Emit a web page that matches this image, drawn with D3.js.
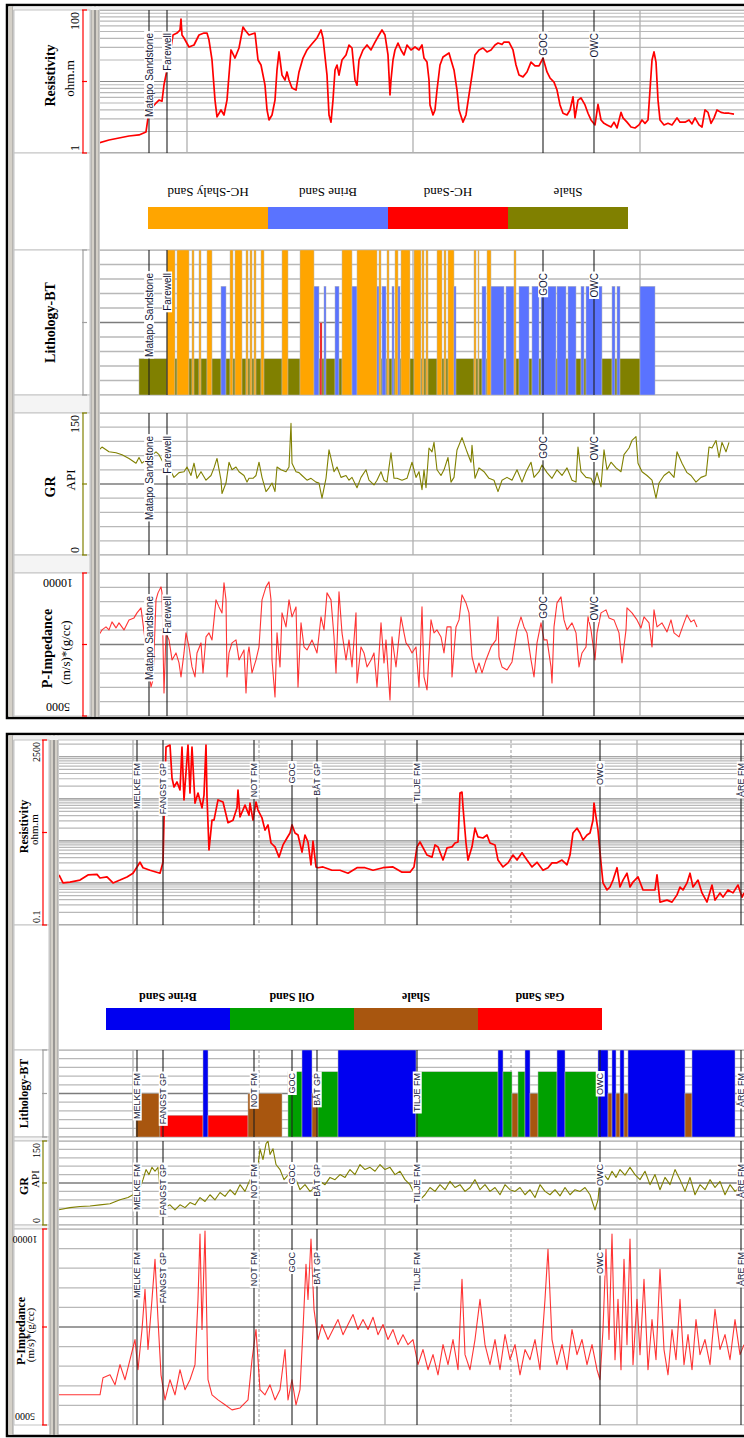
<!DOCTYPE html>
<html lang="en">
<head>
<meta charset="utf-8">
<title>Well log lithology comparison</title>
<script src="https://cdn.jsdelivr.net/npm/d3@7"></script>
<style>
  body { margin: 0; background: #fff; }
  svg { display: block; }
</style>
</head>
<body>
<script>
// ================= DATA : upper well =================
var topDepthRange = [2900, 3560];
var topMarkerNames = ["Matapo Sandstone", "Farewell", "GOC", "OWC"];
var topMarkerDepths = [2950, 2968, 3344, 3395];
var topGridDepths = [2988, 3214, 3441];
var topResDomain = [1, 100];
var topResTicks = ["100", "1"];
var topGRDomain = [0, 150];
var topGRTicks = ["150", "0"];
var topPIDomain = [5000, 10000];
var topPITicks = ["10000", "5000"];
var topLithNames = ["HC-Shaly Sand", "Brine Sand", "HC-Sand", "Shale"];
var topLithCodes = [4, 3, 2, 1];
var topLithColors = ["#ffa500", "#5a73ff", "#ff0000", "#808000"];

// [depth, resistivity ohm.m]
var topRes = [[2900,1.38],[2910,1.52],[2920,1.62],[2930,1.73],[2940,1.79],[2947,1.97],[2949,3.1],[2951,4.0],[2957,5.0],[2960,5.5],[2963,5.3],[2965,9],[2968,14.5],[2971,25],[2974,44.7],[2978,47.6],[2981,52.5],[2982,74.8],[2983,44.7],[2985,40.6],[2990,30.4],[2995,32.4],[3000,44.7],[3005,47.6],[3008,47.6],[3010,38],[3013,20],[3016,5.5],[3018,3.2],[3022,4.0],[3025,3.4],[3028,5.5],[3032,27.6],[3036,21.3],[3040,29.4],[3044,57.8],[3046,52.5],[3050,44.7],[3056,47.6],[3059,20],[3062,17],[3066,8.9],[3068,4.0],[3070,2.9],[3073,3.4],[3076,5.5],[3078,14.5],[3080,25.9],[3083,12.3],[3086,10.5],[3088,13.6],[3090,10.5],[3093,8.1],[3097,7.6],[3100,13.6],[3104,21.3],[3108,27.6],[3112,32.4],[3118,40.6],[3122,52.5],[3124,40.6],[3128,12.3],[3130,3.4],[3132,2.7],[3134,5.5],[3136,14.5],[3138,17],[3140,12.3],[3143,20],[3147,23.5],[3150,32.4],[3153,29.4],[3156,10.5],[3158,8.9],[3160,20],[3164,27.6],[3168,32.4],[3172,27.6],[3176,35.6],[3180,44.7],[3183,52.5],[3186,44.7],[3189,23.5],[3191,6.5],[3192,10.5],[3194,20],[3196,27.6],[3199,34.5],[3202,27.6],[3205,23.5],[3208,32.4],[3212,27.6],[3216,30.4],[3220,27.6],[3223,32.4],[3225,21.3],[3228,18.7],[3230,10.5],[3231,4.7],[3234,3.4],[3236,4.0],[3238,7.6],[3241,17],[3244,22],[3247,23.5],[3250,25.1],[3252,20],[3255,14.5],[3258,7.6],[3260,4.0],[3264,2.7],[3267,3.4],[3270,6.5],[3273,12.3],[3276,23.5],[3280,27.6],[3284,29.4],[3288,25.9],[3292,27.6],[3296,32.4],[3299,34.5],[3303,33],[3305,35.6],[3310,35.6],[3314,27.6],[3317,17],[3320,12.3],[3324,11.6],[3328,13.6],[3332,18.7],[3336,16.5],[3340,16.5],[3344,21.3],[3348,13.6],[3351,11.2],[3355,9.8],[3358,7.6],[3361,4.7],[3364,3.6],[3368,3.4],[3371,4.0],[3374,6.1],[3376,3.1],[3379,5.5],[3382,5.9],[3386,4.7],[3389,3.6],[3392,2.9],[3396,2.47],[3399,4.8],[3402,2.9],[3405,2.6],[3408,2.47],[3412,2.31],[3415,2.7],[3418,2.24],[3422,3.7],[3424,3.1],[3428,2.7],[3432,2.31],[3436,2.24],[3440,2.47],[3443,2.9],[3446,2.6],[3449,2.9],[3451,7.6],[3453,20],[3455,25.9],[3457,18.7],[3459,5.5],[3461,2.9],[3465,2.47],[3469,2.6],[3473,2.47],[3478,3.1],[3481,2.7],[3486,2.7],[3490,2.9],[3493,2.55],[3496,3.1],[3500,2.47],[3503,2.31],[3506,4.0],[3509,3.7],[3512,2.6],[3515,3.1],[3518,4.0],[3522,3.7],[3526,3.6],[3530,3.6],[3535,3.5]];

// [from depth, to depth, lithology code]
var topLith = [[2940,2968,1],[2968,2976,4],[2976,2978,1],[2978,2990,4],[2990,2993,1],[2993,2995,4],[2995,3000,1],[3000,3002,4],[3002,3008,1],[3008,3013,4],[3013,3022,1],[3022,3027,3],[3027,3031,1],[3031,3034,4],[3034,3036,1],[3036,3043,4],[3043,3047,1],[3047,3049,4],[3049,3051,1],[3051,3053,4],[3053,3055,1],[3055,3057,4],[3057,3062,1],[3062,3065,4],[3065,3083,1],[3083,3089,4],[3089,3101,1],[3101,3115,4],[3115,3120,3],[3120,3121,1],[3121,3123,2],[3123,3125,1],[3125,3127,3],[3127,3136,1],[3136,3140,3],[3140,3143,1],[3143,3153,4],[3153,3158,3],[3158,3178,4],[3178,3180,3],[3180,3182,4],[3182,3183,1],[3183,3187,3],[3187,3188,1],[3188,3190,4],[3190,3193,1],[3193,3195,3],[3195,3196,1],[3196,3199,4],[3199,3201,3],[3201,3202,1],[3202,3211,4],[3211,3215,1],[3215,3222,4],[3222,3223,1],[3223,3225,4],[3225,3227,1],[3227,3229,4],[3229,3238,1],[3238,3243,4],[3243,3245,1],[3245,3247,4],[3247,3249,1],[3249,3255,4],[3255,3257,3],[3257,3275,1],[3275,3277,4],[3277,3279,1],[3279,3280,4],[3280,3283,1],[3283,3287,3],[3287,3288,1],[3288,3292,4],[3292,3305,3],[3305,3307,1],[3307,3315,3],[3315,3317,4],[3317,3320,1],[3320,3330,3],[3330,3333,1],[3333,3340,3],[3340,3342,1],[3342,3357,3],[3357,3358,1],[3358,3367,3],[3367,3369,1],[3369,3377,3],[3377,3382,1],[3382,3385,3],[3385,3387,1],[3387,3403,3],[3403,3413,1],[3413,3416,3],[3416,3418,1],[3418,3421,3],[3421,3441,1],[3441,3456,3]];

// [depth, GR API]
var topGR = [[2900,111],[2903,114],[2910,109],[2917,108],[2923,106],[2930,102],[2937,97],[2940,103],[2943,97],[2957,109],[2960,106],[2962,102],[2968,90],[2972,88],[2975,82],[2980,87],[2985,88],[2988,93],[2992,84],[2995,97],[2998,81],[3002,88],[3007,79],[3012,84],[3015,92],[3018,102],[3022,79],[3023,65],[3027,76],[3030,98],[3033,90],[3037,93],[3040,88],[3045,84],[3048,77],[3050,81],[3054,81],[3057,84],[3060,98],[3063,82],[3067,67],[3070,71],[3073,76],[3076,67],[3078,93],[3082,90],[3087,88],[3090,93],[3092,139],[3093,97],[3097,88],[3100,87],[3103,84],[3108,79],[3112,81],[3117,77],[3120,76],[3123,60],[3127,81],[3130,111],[3132,102],[3135,88],[3138,93],[3142,82],[3147,84],[3150,79],[3153,82],[3158,71],[3162,82],[3167,90],[3170,79],[3175,74],[3178,79],[3182,88],[3185,79],[3188,77],[3192,108],[3195,81],[3198,81],[3203,79],[3208,81],[3213,98],[3217,82],[3220,88],[3223,69],[3225,90],[3227,71],[3230,113],[3233,109],[3235,119],[3238,90],[3242,84],[3245,90],[3249,103],[3252,77],[3255,82],[3258,111],[3263,124],[3268,109],[3272,98],[3273,116],[3276,81],[3280,92],[3285,88],[3290,81],[3295,79],[3299,67],[3303,79],[3308,82],[3313,79],[3318,90],[3323,77],[3327,88],[3332,98],[3335,82],[3340,88],[3343,95],[3348,87],[3353,81],[3358,90],[3363,84],[3368,92],[3373,79],[3377,77],[3379,114],[3382,88],[3387,82],[3392,81],[3395,74],[3398,87],[3402,72],[3405,111],[3408,90],[3412,98],[3417,92],[3422,88],[3425,106],[3430,113],[3433,121],[3437,125],[3439,97],[3443,88],[3448,84],[3453,79],[3457,60],[3460,76],[3465,84],[3470,88],[3475,82],[3478,109],[3483,97],[3488,87],[3492,84],[3497,77],[3502,82],[3507,84],[3510,114],[3513,113],[3517,121],[3520,103],[3523,119],[3527,109],[3530,119]];

// [depth, P-impedance (m/s)*(g/cc)]
var topPI = [[2900,7835],[2903,8010],[2907,8115],[2910,8010],[2913,8290],[2917,8080],[2920,8255],[2925,8010],[2930,8360],[2935,8430],[2938,8605],[2942,8780],[2952,6015],[2954,6260],[2957,9060],[2959,9305],[2962,9515],[2963,9305],[2965,5805],[2967,7905],[2970,7660],[2972,7205],[2973,6960],[2977,7205],[2980,6855],[2982,6365],[2985,7205],[2987,7905],[2990,7415],[2993,6715],[2996,6365],[2998,7205],[3002,7555],[3004,6505],[3007,7765],[3010,7905],[3013,7660],[3017,9060],[3020,8815],[3023,8605],[3025,9655],[3027,9060],[3028,6365],[3030,7205],[3033,7555],[3037,7660],[3040,6960],[3045,7310],[3047,5805],[3049,7205],[3050,7415],[3053,6505],[3057,6960],[3060,7415],[3063,9060],[3067,9515],[3070,9690],[3072,9060],[3073,6960],[3076,5665],[3078,7905],[3081,6715],[3083,8605],[3087,8115],[3090,9060],[3093,8465],[3097,8815],[3099,6015],[3102,8255],[3105,7415],[3108,7310],[3113,7660],[3118,7205],[3122,8465],[3125,8010],[3128,9305],[3132,9060],[3135,7765],[3137,6505],[3140,9340],[3143,7905],[3147,6960],[3150,7660],[3153,6715],[3157,8605],[3158,6155],[3162,7415],[3165,7205],[3168,6715],[3172,6960],[3175,7205],[3178,6015],[3182,8255],[3185,6855],[3187,7660],[3191,5560],[3193,7765],[3197,6715],[3202,8465],[3205,7905],[3207,7555],[3210,7415],[3213,7205],[3217,7415],[3220,6015],[3223,8815],[3225,6365],[3228,5910],[3232,8360],[3235,7905],[3238,8010],[3242,7765],[3245,7205],[3248,8115],[3252,8115],[3253,6365],[3257,8115],[3260,8360],[3263,9235],[3267,8955],[3270,8605],[3273,7065],[3277,6505],[3280,6855],[3283,6505],[3287,6960],[3292,7415],[3297,7660],[3299,8465],[3300,7065],[3303,6715],[3308,6610],[3313,6890],[3318,8010],[3322,8465],[3325,8115],[3328,7905],[3332,6960],[3335,6365],[3338,7555],[3342,8255],[3345,7660],[3348,7660],[3352,6715],[3353,6155],[3355,8115],[3358,8955],[3362,9165],[3365,8360],[3368,8010],[3373,8255],[3377,7905],[3380,6715],[3383,7205],[3387,7415],[3389,8465],[3392,8010],[3396,6960],[3398,7905],[3402,8605],[3407,8710],[3410,8430],[3415,8360],[3420,7905],[3423,6855],[3427,8010],[3428,8780],[3433,8605],[3438,8360],[3442,8080],[3445,8465],[3450,8255],[3453,7415],[3455,8710],[3458,8115],[3463,8255],[3468,7940],[3472,8360],[3475,7905],[3480,7765],[3485,8255],[3488,8535],[3492,8290],[3495,8360],[3498,8115]];

// ================= DATA : lower well =================
var botDepthRange = [1558, 2260];
var botMarkerNames = ["MELKE FM", "FANGST GP", "NOT FM", "GOC", "BÅT GP", "TILJE FM", "OWC", "ÅRE FM"];
var botMarkerDepths = [1637, 1663, 1754, 1792, 1817, 1917, 2100, 2241];
var botGridSolid = [1633, 1885, 2137];
var botGridDashed = [1759, 2011];
var botResDomain = [0.1, 2500];
var botResTicks = ["2500", "0.1"];
var botGRDomain = [0, 150];
var botGRTicks = ["150", "0"];
var botPIDomain = [5000, 10000];
var botPITicks = ["10000", "5000"];
var botLithNames = ["Brine Sand", "Oil Sand", "Shale", "Gas Sand"];
var botLithCodes = [4, 3, 2, 1];
var botLithColors = ["#0000f0", "#00a000", "#a8560f", "#ff0000"];

var botRes = [[1559,1.55],[1563,1.0],[1570,1.05],[1580,1.17],[1588,1.55],[1597,1.6],[1600,1.31],[1607,1.39],[1613,1.0],[1620,1.17],[1627,1.39],[1633,1.7],[1637,2.4],[1640,3.1],[1643,2.3],[1650,2.0],[1660,1.7],[1663,3.1],[1664,31],[1666,1700],[1670,1900],[1672,313],[1674,191],[1677,251],[1680,162],[1682,1700],[1684,94],[1688,1900],[1690,137],[1692,1700],[1695,79],[1698,137],[1702,61],[1704,123],[1706,1900],[1707,110],[1709,6.1],[1712,31],[1714,31],[1718,94],[1723,84],[1728,27],[1733,31],[1737,61],[1738,162],[1740,37],[1745,71],[1749,41],[1750,79],[1753,31],[1756,84],[1758,54],[1762,35],[1765,18],[1768,24],[1771,8.9],[1775,7.2],[1779,4.1],[1783,8.0],[1787,11.7],[1790,15.4],[1792,24],[1795,15.4],[1798,13.8],[1802,5.4],[1805,13.8],[1808,9.4],[1811,2.7],[1813,9.9],[1816,2.4],[1818,2.3],[1823,2.4],[1832,2.0],[1840,2.0],[1848,1.7],[1857,2.3],[1865,2.3],[1873,2.0],[1883,2.3],[1893,2.4],[1902,1.8],[1910,1.8],[1914,2.4],[1917,7.2],[1920,9.4],[1927,4.6],[1932,4.1],[1935,8.0],[1938,7.2],[1943,3.5],[1947,6.8],[1952,7.2],[1955,8.9],[1958,9.4],[1960,137],[1962,145],[1963,64],[1966,8.9],[1968,3.5],[1972,7.2],[1975,20],[1978,12.4],[1983,11.7],[1987,13.8],[1990,8.9],[1995,8.0],[1998,3.5],[2003,2.4],[2008,3.0],[2013,4.6],[2017,3.5],[2022,5.2],[2027,3.5],[2032,2.4],[2037,3.1],[2043,2.0],[2048,2.3],[2052,3.0],[2057,3.0],[2062,3.5],[2067,2.7],[2070,4.6],[2073,15.4],[2077,20],[2080,15.4],[2083,10.5],[2087,13.8],[2090,15.4],[2093,31],[2094,79],[2096,37],[2098,18],[2101,3.0],[2103,1.0],[2107,0.68],[2110,0.8],[2113,1.17],[2117,2.3],[2120,0.8],[2123,1.17],[2127,1.7],[2130,0.8],[2133,1.05],[2138,1.39],[2143,0.68],[2150,0.68],[2155,0.68],[2157,1.55],[2160,0.35],[2167,0.39],[2172,0.35],[2177,0.52],[2180,0.8],[2183,0.68],[2187,1.0],[2190,1.7],[2193,0.8],[2198,1.17],[2202,0.58],[2207,0.35],[2212,0.89],[2215,0.39],[2220,0.58],[2223,0.46],[2228,0.68],[2233,0.58],[2238,0.89],[2242,0.46],[2244,0.58]];

var botLith = [[1636,1660,2],[1660,1703,1],[1703,1708,4],[1708,1748,1],[1748,1782,2],[1788,1802,3],[1802,1812,4],[1812,1818,2],[1818,1838,3],[1838,1916,4],[1916,1998,3],[1998,2003,4],[2003,2012,3],[2012,2018,2],[2018,2025,3],[2025,2030,4],[2030,2038,2],[2038,2057,3],[2057,2065,4],[2065,2098,3],[2098,2108,4],[2108,2112,2],[2112,2116,4],[2116,2120,2],[2120,2124,4],[2124,2128,2],[2128,2185,4],[2185,2192,2],[2192,2235,4]];

var botGR = [[1558,27],[1570,31],[1580,33],[1590,34],[1600,36],[1610,38],[1620,45],[1628,49],[1633,54],[1637,72],[1640,67],[1643,81],[1646,99],[1649,90],[1652,103],[1655,96],[1658,103],[1661,45],[1664,31],[1670,36],[1675,27],[1680,36],[1685,31],[1690,40],[1695,36],[1700,49],[1705,42],[1710,54],[1715,45],[1720,58],[1725,51],[1730,63],[1735,54],[1740,72],[1745,60],[1750,81],[1754,67],[1757,90],[1760,136],[1763,117],[1766,145],[1768,150],[1770,126],[1773,136],[1776,108],[1780,99],[1784,81],[1788,89],[1792,72],[1796,81],[1800,63],[1805,72],[1810,60],[1815,67],[1820,78],[1825,72],[1830,85],[1835,81],[1840,90],[1845,85],[1850,99],[1855,90],[1860,108],[1865,99],[1870,103],[1875,96],[1880,108],[1885,99],[1890,103],[1895,90],[1900,96],[1905,81],[1910,72],[1915,54],[1920,45],[1925,54],[1930,67],[1935,60],[1940,72],[1945,63],[1950,78],[1955,67],[1960,72],[1965,60],[1970,67],[1975,81],[1980,63],[1985,72],[1990,60],[1995,67],[2000,54],[2005,72],[2010,63],[2015,60],[2020,67],[2025,54],[2030,63],[2035,49],[2040,72],[2045,60],[2050,54],[2055,63],[2060,52],[2065,67],[2070,54],[2075,63],[2080,60],[2085,67],[2090,54],[2095,27],[2098,45],[2100,81],[2104,90],[2108,81],[2112,96],[2116,85],[2120,99],[2125,89],[2130,103],[2135,90],[2140,81],[2145,96],[2150,72],[2155,90],[2160,63],[2165,85],[2170,72],[2175,99],[2180,81],[2185,60],[2190,85],[2195,54],[2200,72],[2205,63],[2210,81],[2215,67],[2220,78],[2225,54],[2230,72],[2235,60],[2240,67],[2244,63]];

var botPI = [[1558,5770],[1570,5770],[1590,5770],[1600,5770],[1603,6205],[1610,6280],[1615,6025],[1620,6540],[1625,6155],[1630,6665],[1635,7180],[1638,6410],[1642,7435],[1645,8460],[1648,6925],[1652,8205],[1655,9230],[1658,7690],[1661,6280],[1665,5640],[1670,6155],[1675,5770],[1680,6410],[1685,5900],[1690,6155],[1695,6540],[1698,8205],[1700,9870],[1702,7435],[1705,9950],[1708,6155],[1712,5770],[1718,5640],[1725,5515],[1732,5385],[1740,5435],[1748,5640],[1752,6665],[1756,7435],[1760,5900],[1765,5770],[1770,6025],[1775,5640],[1780,5900],[1785,6925],[1788,5640],[1792,6155],[1796,5515],[1800,5900],[1803,7435],[1806,9100],[1808,8205],[1811,9745],[1814,7950],[1818,7180],[1822,7565],[1828,7180],[1833,7435],[1838,7690],[1843,7305],[1848,7565],[1853,7820],[1858,7435],[1863,7690],[1868,7435],[1873,7750],[1878,7305],[1883,7565],[1888,7180],[1893,7435],[1898,7050],[1903,7305],[1908,7050],[1913,7180],[1918,6540],[1923,6925],[1928,6410],[1933,6795],[1938,6280],[1943,7050],[1948,6540],[1953,7180],[1958,6410],[1962,8720],[1965,6795],[1970,6410],[1975,7180],[1980,8205],[1985,7050],[1990,6540],[1995,7180],[2000,6410],[2005,7305],[2010,6665],[2015,7050],[2020,6280],[2025,6925],[2030,6665],[2035,7180],[2040,6410],[2045,8205],[2048,9485],[2052,7180],[2057,6540],[2062,7050],[2067,6410],[2072,7435],[2077,6795],[2082,7180],[2087,6540],[2092,7050],[2097,6410],[2100,6155],[2103,7435],[2106,9485],[2109,7180],[2112,9870],[2115,6665],[2118,8205],[2121,6410],[2124,9230],[2127,7050],[2130,9745],[2133,6540],[2137,8205],[2140,6795],[2144,8720],[2148,6410],[2152,7690],[2156,6665],[2160,8975],[2164,6925],[2168,6280],[2172,7435],[2176,6665],[2180,8205],[2184,6540],[2188,7305],[2192,6410],[2196,7690],[2200,6795],[2205,7180],[2210,6540],[2215,7950],[2220,6925],[2225,7305],[2230,6665],[2235,7690],[2240,6795],[2244,7050]];

// ================= LAYOUT =================
var W = 744, H = 1438;
var serif = "'Liberation Serif', 'Times New Roman', serif";
var sans = "'Liberation Sans', Arial, sans-serif";

var svg = d3.select("body").append("svg")
    .attr("width", W)
    .attr("height", H)
    .style("font-family", serif);

var topL = {
  name: "top", y0: 5, y1: 718, labelLeft: 13, labelRight: 91, trackLeft: 99, right: 762,
  scaleX: 83, titleX: 50, subX: 70, tickX: 75, titleSize: 14, tickSize: 12, markerSize: 10,
  rows: { res: [10, 153], legend: [153, 250], lith: [250, 395], gap1: [395, 413], gr: [413, 555], gap2: [555, 573], pi: [573, 716] },
  legendX0: 148, legendW: 120, legendBar: [207, 229], legendTextY: 193, legendBold: false, legendSize: 13,
  piTickX: 58
};
var botL = {
  name: "bot", y0: 734, y1: 1436, labelLeft: 13, labelRight: 50, trackLeft: 58, right: 762,
  scaleX: 43, titleX: 24, subX: 35, tickX: 36, titleSize: 12, tickSize: 10, markerSize: 9,
  rows: { res: [740, 925], legend: [925, 1050], lith: [1050, 1137], gap1: [1137, 1141], gr: [1141, 1225], gap2: [1225, 1229], pi: [1229, 1425] },
  legendX0: 106, legendW: 124, legendBar: [1008, 1030], legendTextY: 997, legendBold: true, legendSize: 12,
  piTickX: 25
};

// ================= HELPERS =================
var clipCount = 0;
function clipGroup(x0, y0, x1, y1) {
  var id = "clip" + (clipCount++);
  svg.append("clipPath").attr("id", id).append("rect")
     .attr("x", x0).attr("y", y0).attr("width", x1 - x0).attr("height", y1 - y0);
  return svg.append("g").attr("clip-path", "url(#" + id + ")");
}

function hline(g, x1, x2, y, color, w) {
  g.append("line").attr("x1", x1).attr("x2", x2).attr("y1", y).attr("y2", y)
   .attr("stroke", color).attr("stroke-width", w || 1);
}
function vline(g, x, y1, y2, color, w, dash) {
  var l = g.append("line").attr("x1", x).attr("x2", x).attr("y1", y1).attr("y2", y2)
   .attr("stroke", color).attr("stroke-width", w || 1);
  if (dash) l.attr("stroke-dasharray", dash);
}

function rotText(g, x, y, angle, txt, size, opts) {
  opts = opts || {};
  return g.append("text")
    .attr("transform", "translate(" + x + "," + y + ") rotate(" + angle + ")")
    .attr("text-anchor", opts.anchor || "middle")
    .attr("dy", "0.35em")
    .style("font-size", size + "px")
    .style("font-weight", opts.bold ? "bold" : "normal")
    .style("font-family", opts.family || serif)
    .attr("fill", opts.color || "#000")
    .text(txt);
}

function frame(L) {
  var g = svg.append("g");
  g.append("rect").attr("x", 7).attr("y", L.y0).attr("width", L.right - 7).attr("height", L.y1 - L.y0)
   .attr("fill", "#fff").attr("stroke", "#000").attr("stroke-width", 2.5);
  g.append("rect").attr("x", 8.5).attr("y", L.y0 + 1.5).attr("width", L.labelLeft - 8.5).attr("height", L.y1 - L.y0 - 3)
   .attr("fill", "#d4d0c8");
  g.append("rect").attr("x", L.labelRight).attr("y", L.y0 + 1.5).attr("width", L.trackLeft - L.labelRight).attr("height", L.y1 - L.y0 - 3)
   .attr("fill", "#d4d0c8");
  vline(g, L.labelLeft, L.y0 + 1, L.y1 - 1, "#9a9a9a", 1);
  vline(g, L.labelRight, L.y0 + 1, L.y1 - 1, "#9a9a9a", 1);
  vline(g, (L.labelRight + L.trackLeft) / 2, L.y0 + 1, L.y1 - 1, "#707070", 1.2);
  vline(g, L.trackLeft, L.y0 + 1, L.y1 - 1, "#9a9a9a", 1);
  g.append("rect").attr("x", L.labelLeft).attr("y", L.y0 + 1.5).attr("width", L.right - L.labelLeft)
   .attr("height", L.rows.res[0] - L.y0 - 1.5).attr("fill", "#f0f0f0");
  Object.keys(L.rows).forEach(function(k) {
    var r = L.rows[k];
    g.append("rect").attr("x", L.labelLeft + 1).attr("y", r[0]).attr("width", L.labelRight - L.labelLeft - 2)
     .attr("height", r[1] - r[0]).attr("fill", k.indexOf("gap") === 0 ? "#f4f4f4" : "#fff")
     .attr("stroke", "#c4c4c4").attr("stroke-width", 1);
    hline(g, L.trackLeft, L.right, r[0], "#c4c4c4", 1.2);
    hline(g, L.trackLeft, L.right, r[1], "#c4c4c4", 1.2);
  });
}

function scaleBracket(L, r, color, ticks, rotateTicks) {
  var g = svg.append("g");
  vline(g, L.scaleX, r[0], r[1], color, 1.2);
  [r[0], (r[0] + r[1]) / 2, r[1]].forEach(function(yy) { hline(g, L.scaleX - 1, L.scaleX + 4, yy, color, 1.2); });
  if (!ticks) return;
  if (rotateTicks) {
    rotText(g, L.piTickX, r[0] + 10, 180, ticks[0], L.tickSize);
    rotText(g, L.piTickX, r[1] - 9, 180, ticks[1], L.tickSize);
  } else {
    rotText(g, L.tickX, r[0] + 2, -90, ticks[0], L.tickSize, { anchor: "end" });
    rotText(g, L.tickX, r[1] - 2, -90, ticks[1], L.tickSize, { anchor: "start" });
  }
}

function linearGrid(g, L, y, n) {
  var d = y.domain();
  d3.range(n + 1).forEach(function(i) {
    var v = d[0] + (d[1] - d[0]) * i / n;
    hline(g, L.trackLeft, L.right, y(v), i * 2 === n ? "#7c7c7c" : "#b8b8b8", 1.3);
  });
}

function logGrid(g, L, y) {
  var d = y.domain();
  var lo = Math.floor(Math.log10(d[0])), hi = Math.ceil(Math.log10(d[1]));
  for (var e = lo; e <= hi; e++) {
    for (var k = 1; k <= 9; k++) {
      var v = k * Math.pow(10, e);
      if (v < d[0] * 0.999 || v > d[1] * 1.001) continue;
      hline(g, L.trackLeft, L.right, y(v), k === 1 ? "#8a8a8a" : "#b8b8b8", 1.2);
    }
  }
}

function vGrid(g, x, r, solid, dashed) {
  (solid || []).forEach(function(dp) { vline(g, x(dp), r[0], r[1], "#b0b0b0", 1.3); });
  (dashed || []).forEach(function(dp) { vline(g, x(dp), r[0], r[1], "#9a9a9a", 1, "3,2"); });
}

function curve(g, data, x, y, color, width, opacity) {
  var line = d3.line().x(function(d) { return x(d[0]); }).y(function(d) { return y(d[1]); });
  g.append("path").datum(data).attr("d", line).attr("fill", "none")
   .attr("stroke", color).attr("stroke-width", width).attr("stroke-opacity", opacity || 1)
   .attr("stroke-linejoin", "round");
}

function markers(g, x, names, depths, r, size) {
  depths.forEach(function(dp) { vline(g, x(dp), r[0], r[1], "#202020", 1.1); });
  names.forEach(function(n, i) {
    var t = g.append("g").attr("transform", "translate(" + x(depths[i]) + "," + (r[0] + 23) + ") rotate(-90)");
    var txt = t.append("text").attr("text-anchor", "end").attr("dy", "0.36em")
      .style("font-family", sans).style("font-size", size + "px").attr("fill", "#141838").text(n);
    var b = txt.node().getBBox();
    t.insert("rect", "text").attr("x", b.x - 1.5).attr("y", b.y + 0.5).attr("width", b.width + 3)
     .attr("height", b.height - 1).attr("fill", "#fff");
  });
}

// ================= PANEL =================
function drawPanel(L, D) {
  frame(L);
  var x = d3.scaleLinear().domain(D.depthRange).range([L.trackLeft, L.trackLeft + (D.depthRange[1] - D.depthRange[0])]);
  var R = L.rows;
  var lab = svg.append("g");

  // resistivity
  var yRes = d3.scaleLog().domain(D.resDomain).range([R.res[1], R.res[0]]);
  var g = clipGroup(L.trackLeft + 1, R.res[0], W, R.res[1]);
  logGrid(g, L, yRes);
  vGrid(g, x, R.res, D.gridSolid, D.gridDashed);
  curve(g, D.res, x, yRes, "#ff0000", 1.7);
  markers(g, x, D.markerNames, D.markerDepths, R.res, L.markerSize);
  rotText(lab, L.titleX, (R.res[0] + R.res[1]) / 2 - 6, -90, "Resistivity", L.titleSize, { bold: true });
  rotText(lab, L.subX - 1, (R.res[0] + R.res[1]) / 2 - 3, -90, "ohm.m", L.titleSize - 1);
  scaleBracket(L, R.res, "#ff0000", D.resTicks);

  // legend
  var lg = svg.append("g");
  D.lithNames.forEach(function(n, i) {
    var x0 = L.legendX0 + i * L.legendW;
    lg.append("rect").attr("x", x0).attr("y", L.legendBar[0]).attr("width", L.legendW)
      .attr("height", L.legendBar[1] - L.legendBar[0]).attr("fill", D.lithColors[i]);
    rotText(lg, x0 + L.legendW / 2, L.legendTextY, 180, n, L.legendSize, { bold: L.legendBold });
  });

  // lithology
  var yLith = d3.scaleLinear().domain([0, 4]).range([R.lith[1], R.lith[0]]);
  g = clipGroup(L.trackLeft + 1, R.lith[0], W, R.lith[1]);
  linearGrid(g, L, yLith, 10);
  vGrid(g, x, R.lith, D.gridSolid, D.gridDashed);
  var colorOf = d3.scaleOrdinal().domain(D.lithCodes).range(D.lithColors);
  g.selectAll("rect.lith").data(D.lith).enter().append("rect")
    .attr("class", "lith")
    .attr("x", function(d) { return x(d[0]); })
    .attr("width", function(d) { return x(d[1]) - x(d[0]); })
    .attr("y", function(d) { return yLith(d[2]); })
    .attr("height", function(d) { return R.lith[1] - yLith(d[2]); })
    .attr("fill", function(d) { return colorOf(d[2]); })
    .attr("stroke", "#b8b8b8").attr("stroke-width", 0.5);
  markers(g, x, D.markerNames, D.markerDepths, R.lith, L.markerSize);
  rotText(lab, L.titleX, (R.lith[0] + R.lith[1]) / 2, -90, "Lithology-BT", L.titleSize, { bold: true });
  scaleBracket(L, R.lith, "#a0a0a0", null);

  // GR
  var yGR = d3.scaleLinear().domain(D.grDomain).range([R.gr[1], R.gr[0]]);
  g = clipGroup(L.trackLeft + 1, R.gr[0], W, R.gr[1]);
  linearGrid(g, L, yGR, 10);
  vGrid(g, x, R.gr, D.gridSolid, D.gridDashed);
  curve(g, D.gr, x, yGR, "#808000", 1.1);
  markers(g, x, D.markerNames, D.markerDepths, R.gr, L.markerSize);
  rotText(lab, L.titleX, (R.gr[0] + R.gr[1]) / 2 + 3, -90, "GR", L.titleSize, { bold: true });
  rotText(lab, L.subX, (R.gr[0] + R.gr[1]) / 2 - 4, -90, "API", L.titleSize - 1);
  scaleBracket(L, R.gr, "#808000", D.grTicks);

  // P-impedance
  var yPI = d3.scaleLinear().domain(D.piDomain).range([R.pi[1], R.pi[0]]);
  g = clipGroup(L.trackLeft + 1, R.pi[0], W, R.pi[1]);
  linearGrid(g, L, yPI, 10);
  vGrid(g, x, R.pi, D.gridSolid, D.gridDashed);
  curve(g, D.pi, x, yPI, "#ff1010", 1.1, 0.85);
  markers(g, x, D.markerNames, D.markerDepths, R.pi, L.markerSize);
  rotText(lab, L.titleX - 3, (R.pi[0] + R.pi[1]) / 2 + 4, -90, "P-Impedance", L.titleSize, { bold: true });
  rotText(lab, L.subX - 5, (R.pi[0] + R.pi[1]) / 2 + 8, -90, "(m/s)*(g/cc)", L.titleSize - 1);
  scaleBracket(L, R.pi, "#ff0000", D.piTicks, true);
}

drawPanel(topL, {
  depthRange: topDepthRange, markerNames: topMarkerNames, markerDepths: topMarkerDepths,
  gridSolid: topGridDepths, gridDashed: [],
  resDomain: topResDomain, resTicks: topResTicks, res: topRes,
  lithNames: topLithNames, lithCodes: topLithCodes, lithColors: topLithColors, lith: topLith,
  grDomain: topGRDomain, grTicks: topGRTicks, gr: topGR,
  piDomain: topPIDomain, piTicks: topPITicks, pi: topPI
});

drawPanel(botL, {
  depthRange: botDepthRange, markerNames: botMarkerNames, markerDepths: botMarkerDepths,
  gridSolid: botGridSolid, gridDashed: botGridDashed,
  resDomain: botResDomain, resTicks: botResTicks, res: botRes,
  lithNames: botLithNames, lithCodes: botLithCodes, lithColors: botLithColors, lith: botLith,
  grDomain: botGRDomain, grTicks: botGRTicks, gr: botGR,
  piDomain: botPIDomain, piTicks: botPITicks, pi: botPI
});
</script>
</body>
</html>
